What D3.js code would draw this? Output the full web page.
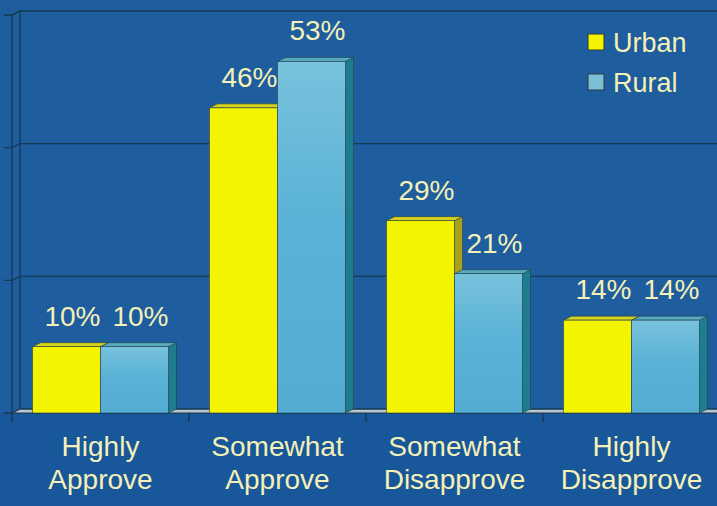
<!DOCTYPE html>
<html>
<head>
<meta charset="utf-8">
<script src="https://cdn.jsdelivr.net/npm/d3@7"></script>
<style>
  html, body { margin: 0; padding: 0; background: #1d5c9c; }
  svg { display: block; }
  text { font-family: "Liberation Sans", Arial, Helvetica, sans-serif; }
</style>
</head>
<body>
<svg id="chart" width="717" height="506"></svg>
<script>
// Opinion by area of residence
const categories = [["Highly", "Approve"], ["Somewhat", "Approve"], ["Somewhat", "Disapprove"], ["Highly", "Disapprove"]];
const seriesNames = ["Urban", "Rural"];
const urban = [10, 46, 29, 14];
const rural = [10, 53, 21, 14];
const gridTicks = [0, 20, 40, 60];

const W = 717, H = 506;
const depthX = 8, depthY = -4;   // 3D offset of the back plane

const svg = d3.select("#chart");

const catKeys = categories.map(c => c.join(" "));
const x = d3.scaleBand().domain(catKeys).range([12, 720]);
const xs = d3.scaleBand().domain(seriesNames).range([20.5, x.bandwidth() - 20.5]);
const y = d3.scaleLinear().domain([0, 60]).range([413, 15]);
const base = y(0);

const colors = {
  Urban: { front: "#f4f400", top: "#d9d21a", side: "#a8a11c" },
  Rural: { front: "url(#ruralGrad)", top: "#56aabd", side: "#1f7c8e" }
};

const defs = svg.append("defs");
const g1 = defs.append("linearGradient").attr("id", "ruralGrad")
  .attr("x1", 0).attr("y1", 0).attr("x2", 0).attr("y2", 1);
g1.append("stop").attr("offset", 0).attr("stop-color", "#78c2dc");
g1.append("stop").attr("offset", 0.45).attr("stop-color", "#5ab2d6");
g1.append("stop").attr("offset", 1).attr("stop-color", "#55acd3");

// background and lower band
svg.append("rect").attr("width", W).attr("height", H).attr("fill", "#1e5d9e");
svg.append("rect").attr("x", 0).attr("y", base).attr("width", W).attr("height", H - base).attr("fill", "#18579a");

// floor
svg.append("path")
  .attr("d", `M12,${base} L${12 + depthX},${base + depthY} L${W},${base + depthY} L${W},${base} Z`)
  .attr("fill", "#b8c6cf");

// gridlines on the back wall with ticks on the side wall
svg.append("g").selectAll("path").data(gridTicks).join("path")
  .attr("d", t => `M4,${y(t)} L12,${y(t)} L${12 + depthX},${y(t) + depthY} L${W},${y(t) + depthY}`)
  .attr("fill", "none").attr("stroke", "#163a52").attr("stroke-width", 1.3);

// left wall edges
svg.append("path")
  .attr("d", `M12,${base} L12,${y(60)} L${12 + depthX},${y(60) + depthY}`)
  .attr("fill", "none").attr("stroke", "#163a52").attr("stroke-width", 1.3);
svg.append("line")
  .attr("x1", 12 + depthX).attr("x2", 12 + depthX)
  .attr("y1", y(60) + depthY).attr("y2", base + depthY)
  .attr("stroke", "#163a52").attr("stroke-width", 1.3);

// category axis line and ticks
svg.append("line").attr("x1", 12).attr("x2", W).attr("y1", base).attr("y2", base)
  .attr("stroke", "#1b3347").attr("stroke-width", 1.2);
svg.append("g").selectAll("line").data(catKeys).join("line")
  .attr("x1", d => x(d)).attr("x2", d => x(d))
  .attr("y1", base).attr("y2", base + 9)
  .attr("stroke", "#1b3347").attr("stroke-width", 1.2);

// bars
const bars = [];
catKeys.forEach((c, i) => {
  bars.push({ cat: c, s: "Urban", v: urban[i] });
  bars.push({ cat: c, s: "Rural", v: rural[i] });
});

const barG = svg.append("g");
bars.forEach(b => {
  const x0 = x(b.cat) + xs(b.s), x1 = x0 + xs.bandwidth();
  const yt = y(b.v);
  const c = colors[b.s];
  const g = barG.append("g");
  // side face
  g.append("path")
    .attr("d", `M${x1},${base} L${x1},${yt} L${x1 + depthX},${yt + depthY} L${x1 + depthX},${base + depthY} Z`)
    .attr("fill", c.side).attr("stroke", "#23404a").attr("stroke-width", 0.6);
  // top face
  g.append("path")
    .attr("d", `M${x0},${yt} L${x0 + depthX},${yt + depthY} L${x1 + depthX},${yt + depthY} L${x1},${yt} Z`)
    .attr("fill", c.top).attr("stroke", "#23404a").attr("stroke-width", 0.6);
  // front face
  g.append("rect")
    .attr("x", x0).attr("y", yt).attr("width", x1 - x0).attr("height", base - yt)
    .attr("fill", c.front).attr("stroke", "#23404a").attr("stroke-width", 0.6);
});

// value labels
svg.append("g").selectAll("text").data(bars).join("text")
  .attr("x", d => x(d.cat) + xs(d.s) + xs.bandwidth() / 2 + 6)
  .attr("y", d => y(d.v) - 21)
  .attr("text-anchor", "middle")
  .attr("font-size", 28)
  .attr("fill", "#f4f0b8")
  .text(d => d.v + "%");

// category labels
const catG = svg.append("g").selectAll("text").data(categories).join("text")
  .attr("text-anchor", "middle")
  .attr("font-size", 28)
  .attr("fill", "#f4f0b8");
catG.each(function(d, i) {
  const cx = x(catKeys[i]) + x.bandwidth() / 2;
  d3.select(this).selectAll("tspan").data(d).join("tspan")
    .attr("x", cx)
    .attr("y", (t, j) => 456 + j * 33)
    .text(t => t);
});

// legend
const legend = svg.append("g");
seriesNames.forEach((s, i) => {
  const ly = 34 + i * 40;
  legend.append("rect").attr("x", 588).attr("y", ly).attr("width", 16).attr("height", 16)
    .attr("fill", s === "Urban" ? "#f4f400" : "#7cc0d6")
    .attr("stroke", "#2a3a40").attr("stroke-width", 1);
  legend.append("text").attr("x", 613).attr("y", ly + 18)
    .attr("font-size", 27).attr("fill", "#f4f0b8").text(s);
});
</script>
</body>
</html>
